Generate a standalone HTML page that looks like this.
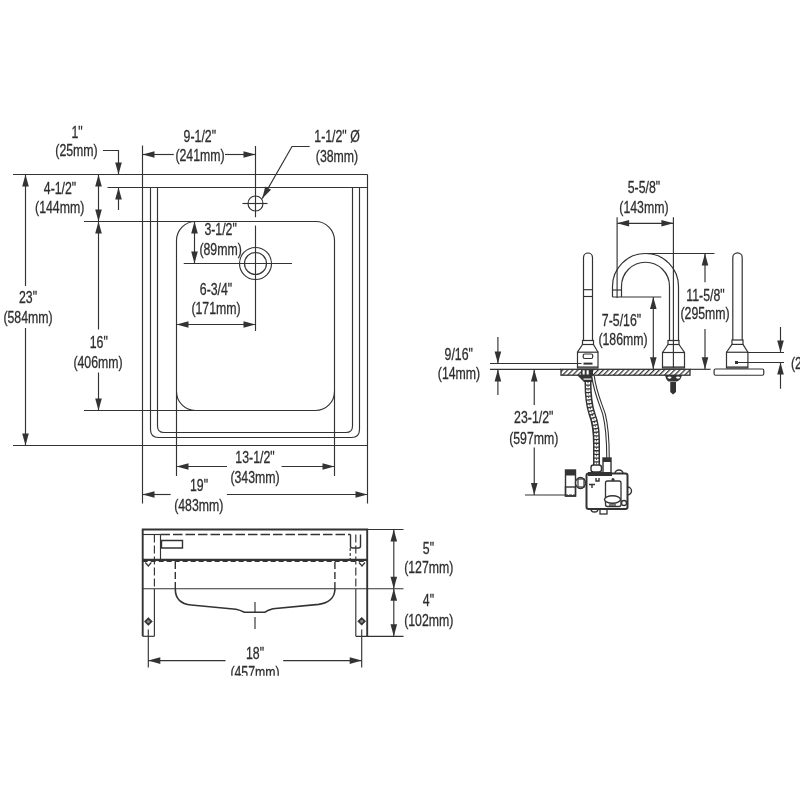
<!DOCTYPE html>
<html><head><meta charset="utf-8"><style>
html,body{margin:0;padding:0;background:#fff;width:800px;height:800px;overflow:hidden}
svg{display:block;will-change:transform}
text{font-family:"Liberation Sans",sans-serif;stroke:#2e2e2e;stroke-width:0.3px}
</style></head><body>
<svg width="800" height="800" viewBox="0 0 800 800">
<rect width="800" height="800" fill="#fff"/>
<defs><pattern id="hatch" patternUnits="userSpaceOnUse" width="3.6" height="3.6" patternTransform="rotate(45)"><rect width="3.6" height="3.6" fill="#fff"/><rect width="1.25" height="3.6" fill="#333"/></pattern></defs>
<line x1="13" y1="174.5" x2="367.5" y2="174.5" stroke="#333" stroke-width="1.15" />
<line x1="107.5" y1="187.5" x2="367.5" y2="187.5" stroke="#333" stroke-width="1.15" />
<line x1="142.5" y1="145.5" x2="142.5" y2="503.5" stroke="#333" stroke-width="1.15" />
<line x1="367.5" y1="174.5" x2="367.5" y2="503.5" stroke="#333" stroke-width="1.15" />
<line x1="13" y1="445.5" x2="367.5" y2="445.5" stroke="#333" stroke-width="1.15" />
<path d="M150.5,187.5 V429.5 Q150.5,437.5 158.5,437.5 H351.5 Q359.5,437.5 359.5,429.5 V187.5" stroke="#333" stroke-width="1.15" fill="none" />
<path d="M157.5,187.5 V426.0 Q157.5,432.5 164.0,432.5 H346.0 Q352.5,432.5 352.5,426.0 V187.5" stroke="#333" stroke-width="1.15" fill="none" />
<path d="M176.5,240.5 V391.5 A19,19 0 0 0 195.5,410.5 H315.5 A19,19 0 0 0 334.5,391.5 V240.5 A19,19 0 0 0 315.5,221.5 H195.5 A19,19 0 0 0 176.5,240.5 Z" stroke="#333" stroke-width="1.15" fill="none" />
<line x1="84" y1="221.5" x2="195.5" y2="221.5" stroke="#333" stroke-width="1.15" />
<line x1="84" y1="410.5" x2="195.5" y2="410.5" stroke="#333" stroke-width="1.15" />
<line x1="176.5" y1="391.5" x2="176.5" y2="476" stroke="#333" stroke-width="1.15" />
<line x1="334.5" y1="391.5" x2="334.5" y2="476" stroke="#333" stroke-width="1.15" />
<line x1="255.5" y1="146" x2="255.5" y2="217.2" stroke="#333" stroke-width="1.15" />
<line x1="255.5" y1="225.6" x2="255.5" y2="331" stroke="#333" stroke-width="1.15" />
<circle cx="255.5" cy="203.5" r="7.5" fill="none" stroke="#333" stroke-width="1.15"/>
<line x1="242.5" y1="203.5" x2="267.5" y2="203.5" stroke="#333" stroke-width="1.15" />
<circle cx="255.5" cy="263.5" r="16" fill="none" stroke="#333" stroke-width="1.15"/>
<circle cx="255.5" cy="263.5" r="11" fill="none" stroke="#333" stroke-width="1.15"/>
<line x1="183.75" y1="263.5" x2="292" y2="263.5" stroke="#333" stroke-width="1.15" />
<path d="M103,150.5 H118.5 V174" stroke="#333" stroke-width="1.15" fill="none" />
<path d="M118.50,174.50 L115.20,162.50 L121.80,162.50 Z" fill="#333"/>
<line x1="118.5" y1="187.5" x2="118.5" y2="210" stroke="#333" stroke-width="1.15" />
<path d="M118.50,187.50 L121.80,199.50 L115.20,199.50 Z" fill="#333"/>
<line x1="25.5" y1="174.5" x2="25.5" y2="286" stroke="#333" stroke-width="1.15" />
<line x1="25.5" y1="328" x2="25.5" y2="445.5" stroke="#333" stroke-width="1.15" />
<path d="M25.50,174.50 L28.80,186.50 L22.20,186.50 Z" fill="#333"/>
<path d="M25.50,445.50 L22.20,433.50 L28.80,433.50 Z" fill="#333"/>
<line x1="98.5" y1="174.5" x2="98.5" y2="221.5" stroke="#333" stroke-width="1.15" />
<path d="M98.50,174.50 L101.80,186.50 L95.20,186.50 Z" fill="#333"/>
<path d="M98.50,221.50 L95.20,209.50 L101.80,209.50 Z" fill="#333"/>
<line x1="98.5" y1="221.5" x2="98.5" y2="329.5" stroke="#333" stroke-width="1.15" />
<line x1="98.5" y1="372.5" x2="98.5" y2="410.5" stroke="#333" stroke-width="1.15" />
<path d="M98.50,221.50 L101.80,233.50 L95.20,233.50 Z" fill="#333"/>
<path d="M98.50,410.50 L95.20,398.50 L101.80,398.50 Z" fill="#333"/>
<line x1="142.5" y1="154.5" x2="173.75" y2="154.5" stroke="#333" stroke-width="1.15" />
<line x1="225" y1="154.5" x2="255.5" y2="154.5" stroke="#333" stroke-width="1.15" />
<path d="M142.50,154.50 L154.50,151.20 L154.50,157.80 Z" fill="#333"/>
<path d="M255.50,154.50 L243.50,157.80 L243.50,151.20 Z" fill="#333"/>
<path d="M309.7,146.5 H292 L262.2,198.6" stroke="#333" stroke-width="1.15" fill="none" />
<path d="M262.20,198.60 L265.29,186.55 L271.02,189.82 Z" fill="#333"/>
<line x1="194.5" y1="221.5" x2="194.5" y2="263.5" stroke="#333" stroke-width="1.15" />
<path d="M194.50,221.50 L197.80,233.50 L191.20,233.50 Z" fill="#333"/>
<path d="M194.50,263.50 L191.20,251.50 L197.80,251.50 Z" fill="#333"/>
<line x1="176.5" y1="324.5" x2="255.5" y2="324.5" stroke="#333" stroke-width="1.15" />
<path d="M176.50,324.50 L188.50,321.20 L188.50,327.80 Z" fill="#333"/>
<path d="M255.50,324.50 L243.50,327.80 L243.50,321.20 Z" fill="#333"/>
<line x1="176.5" y1="466.5" x2="227" y2="466.5" stroke="#333" stroke-width="1.15" />
<line x1="281.5" y1="466.5" x2="334.5" y2="466.5" stroke="#333" stroke-width="1.15" />
<path d="M176.50,466.50 L188.50,463.20 L188.50,469.80 Z" fill="#333"/>
<path d="M334.50,466.50 L322.50,469.80 L322.50,463.20 Z" fill="#333"/>
<line x1="142.5" y1="494.5" x2="170.6" y2="494.5" stroke="#333" stroke-width="1.15" />
<line x1="226.9" y1="494.5" x2="367.5" y2="494.5" stroke="#333" stroke-width="1.15" />
<path d="M142.50,494.50 L154.50,491.20 L154.50,497.80 Z" fill="#333"/>
<path d="M367.50,494.50 L355.50,497.80 L355.50,491.20 Z" fill="#333"/>
<text transform="translate(77,137.8) scale(0.725,1)" text-anchor="middle" font-size="17" fill="#2e2e2e">1&quot;</text>
<text transform="translate(76.5,156.4) scale(0.725,1)" text-anchor="middle" font-size="17" fill="#2e2e2e">(25mm)</text>
<text transform="translate(60,193.8) scale(0.725,1)" text-anchor="middle" font-size="17" fill="#2e2e2e">4-1/2&quot;</text>
<text transform="translate(59.7,212.8) scale(0.725,1)" text-anchor="middle" font-size="17" fill="#2e2e2e">(144mm)</text>
<text transform="translate(28,303.3) scale(0.725,1)" text-anchor="middle" font-size="17" fill="#2e2e2e">23&quot;</text>
<text transform="translate(28,323.3) scale(0.725,1)" text-anchor="middle" font-size="17" fill="#2e2e2e">(584mm)</text>
<text transform="translate(98.75,348.3) scale(0.725,1)" text-anchor="middle" font-size="17" fill="#2e2e2e">16&quot;</text>
<text transform="translate(98,368.3) scale(0.725,1)" text-anchor="middle" font-size="17" fill="#2e2e2e">(406mm)</text>
<text transform="translate(199.8,142.45000000000002) scale(0.725,1)" text-anchor="middle" font-size="17" fill="#2e2e2e">9-1/2&quot;</text>
<text transform="translate(200,161.05) scale(0.725,1)" text-anchor="middle" font-size="17" fill="#2e2e2e">(241mm)</text>
<text transform="translate(337,141.8) scale(0.725,1)" text-anchor="middle" font-size="17" fill="#2e2e2e">1-1/2&quot; Ø</text>
<text transform="translate(337,161.8) scale(0.725,1)" text-anchor="middle" font-size="17" fill="#2e2e2e">(38mm)</text>
<text transform="translate(220.6,235.20000000000002) scale(0.725,1)" text-anchor="middle" font-size="17" fill="#2e2e2e">3-1/2&quot;</text>
<text transform="translate(220.6,254.55) scale(0.725,1)" text-anchor="middle" font-size="17" fill="#2e2e2e">(89mm)</text>
<text transform="translate(216,294.55) scale(0.725,1)" text-anchor="middle" font-size="17" fill="#2e2e2e">6-3/4&quot;</text>
<text transform="translate(216,313.8) scale(0.725,1)" text-anchor="middle" font-size="17" fill="#2e2e2e">(171mm)</text>
<text transform="translate(255,463.3) scale(0.725,1)" text-anchor="middle" font-size="17" fill="#2e2e2e">13-1/2&quot;</text>
<text transform="translate(255,482.8) scale(0.725,1)" text-anchor="middle" font-size="17" fill="#2e2e2e">(343mm)</text>
<text transform="translate(199,491.40000000000003) scale(0.725,1)" text-anchor="middle" font-size="17" fill="#2e2e2e">19&quot;</text>
<text transform="translate(198.75,510.8) scale(0.725,1)" text-anchor="middle" font-size="17" fill="#2e2e2e">(483mm)</text>
<path d="M142.7,636.3 V529.5 H367.2 V636.3" stroke="#333" stroke-width="1.9" fill="none" />
<line x1="367.2" y1="529.5" x2="403.5" y2="529.5" stroke="#333" stroke-width="1.15" />
<line x1="142.7" y1="534.5" x2="160.5" y2="534.5" stroke="#333" stroke-width="1.15" />
<line x1="160.5" y1="534.5" x2="350.5" y2="534.5" stroke="#333" stroke-width="1.4" stroke-dasharray="9.5,3"/>
<line x1="154.4" y1="534.5" x2="154.4" y2="589" stroke="#333" stroke-width="1.15" stroke-dasharray="8,3"/>
<line x1="154.4" y1="589" x2="154.4" y2="636.3" stroke="#333" stroke-width="1.15" />
<line x1="142.7" y1="636.3" x2="154.4" y2="636.3" stroke="#333" stroke-width="1.15" />
<line x1="355.8" y1="534.5" x2="355.8" y2="589" stroke="#333" stroke-width="1.15" stroke-dasharray="8,3"/>
<line x1="355.8" y1="589" x2="355.8" y2="636.3" stroke="#333" stroke-width="1.15" />
<line x1="355.8" y1="636.3" x2="403.5" y2="636.3" stroke="#333" stroke-width="1.15" />
<line x1="160.5" y1="534.5" x2="160.5" y2="559" stroke="#333" stroke-width="1.15" />
<path d="M161.5,540.5 H182.5 V548 H161.5 Z" stroke="#333" stroke-width="1.4" fill="none" />
<path d="M350.5,534.5 V546 Q350.5,548 352.5,548 H358.5 Q360.5,548 360.5,546 V534.5" stroke="#333" stroke-width="1.4" fill="none" />
<line x1="350.2" y1="548" x2="350.2" y2="559" stroke="#333" stroke-width="1.15" stroke-dasharray="3,2"/>
<line x1="142.7" y1="559.8" x2="367.2" y2="559.8" stroke="#333" stroke-width="2.2" />
<line x1="142.7" y1="561.5" x2="367.2" y2="561.5" stroke="#333" stroke-width="1.0" stroke-dasharray="5,3"/>
<line x1="142.7" y1="588.7" x2="403.5" y2="588.7" stroke="#333" stroke-width="1.15" />
<line x1="175.3" y1="562" x2="175.3" y2="589" stroke="#333" stroke-width="1.4" stroke-dasharray="7,3"/>
<line x1="334.9" y1="562" x2="334.9" y2="589" stroke="#333" stroke-width="1.4" stroke-dasharray="7,3"/>
<path d="M175.3,589 C175.3,599 181,604 191.2,605 L235.9,609.3 Q240,610 244.4,612.3 H264.6 Q268,610 273,608.7 L318.7,604.4 C328,603 334.9,598 334.9,589" stroke="#333" stroke-width="1.6" fill="none" />
<line x1="255" y1="602" x2="255" y2="629" stroke="#333" stroke-width="1.15" stroke-dasharray="11,4,12"/>
<path d="M148.3,617.5 L152.3,621.5 L148.3,625.5 L144.3,621.5 Z" fill="#333" stroke="#333" stroke-width="0.6"/>
<circle cx="148.3" cy="621.5" r="1.5" fill="#888"/>
<path d="M361.7,617.3 L365.7,621.3 L361.7,625.3 L357.7,621.3 Z" fill="#333" stroke="#333" stroke-width="0.6"/>
<circle cx="361.7" cy="621.3" r="1.5" fill="#888"/>
<path d="M145.3,562.5 L148.3,566 L151.3,562.5" stroke="#333" stroke-width="1.2" fill="none" />
<path d="M359,562.5 L362,566 L365,562.5" stroke="#333" stroke-width="1.2" fill="none" />
<line x1="148.3" y1="629.4" x2="148.3" y2="667.6" stroke="#333" stroke-width="1.15" />
<line x1="361.7" y1="629.4" x2="361.7" y2="667.6" stroke="#333" stroke-width="1.15" />
<line x1="148.3" y1="660.6" x2="225.5" y2="660.6" stroke="#333" stroke-width="1.15" />
<line x1="283.2" y1="660.6" x2="361.7" y2="660.6" stroke="#333" stroke-width="1.15" />
<path d="M148.30,660.60 L160.30,657.30 L160.30,663.90 Z" fill="#333"/>
<path d="M361.70,660.60 L349.70,663.90 L349.70,657.30 Z" fill="#333"/>
<line x1="393.8" y1="529.5" x2="393.8" y2="588.7" stroke="#333" stroke-width="1.15" />
<path d="M393.80,529.50 L397.10,541.50 L390.50,541.50 Z" fill="#333"/>
<path d="M393.80,588.70 L390.50,576.70 L397.10,576.70 Z" fill="#333"/>
<line x1="393.8" y1="588.7" x2="393.8" y2="636.3" stroke="#333" stroke-width="1.15" />
<path d="M393.80,588.70 L397.10,600.70 L390.50,600.70 Z" fill="#333"/>
<path d="M393.80,636.30 L390.50,624.30 L397.10,624.30 Z" fill="#333"/>
<text transform="translate(428.4,553.55) scale(0.725,1)" text-anchor="middle" font-size="17" fill="#2e2e2e">5&quot;</text>
<text transform="translate(428.75,573.3) scale(0.725,1)" text-anchor="middle" font-size="17" fill="#2e2e2e">(127mm)</text>
<text transform="translate(428.4,606.05) scale(0.725,1)" text-anchor="middle" font-size="17" fill="#2e2e2e">4&quot;</text>
<text transform="translate(428.75,625.55) scale(0.725,1)" text-anchor="middle" font-size="17" fill="#2e2e2e">(102mm)</text>
<text transform="translate(255,658.5) scale(0.725,1)" text-anchor="middle" font-size="17" fill="#2e2e2e">18&quot;</text>
<text transform="translate(255,677.8) scale(0.725,1)" text-anchor="middle" font-size="17" fill="#2e2e2e">(457mm)</text>
<rect x="200" y="675.8" width="110" height="20" fill="#fff"/>
<line x1="617.1" y1="217.25" x2="617.1" y2="298" stroke="#333" stroke-width="1.15" />
<line x1="673.4" y1="217.25" x2="673.4" y2="368" stroke="#333" stroke-width="1.15" />
<line x1="617.1" y1="223.3" x2="673.4" y2="223.3" stroke="#333" stroke-width="1.15" />
<path d="M617.10,223.30 L629.10,220.00 L629.10,226.60 Z" fill="#333"/>
<path d="M673.40,223.30 L661.40,226.60 L661.40,220.00 Z" fill="#333"/>
<text transform="translate(643.9,193.3) scale(0.725,1)" text-anchor="middle" font-size="17" fill="#2e2e2e">5-5/8&quot;</text>
<text transform="translate(643.9,212.5) scale(0.725,1)" text-anchor="middle" font-size="17" fill="#2e2e2e">(143mm)</text>
<path d="M612.5,297 V286.5 A33,33 0 0 1 678.5,286.5 V340.5" stroke="#333" stroke-width="1.2" fill="none" />
<path d="M621.5,297 V286.25 A24,24 0 0 1 669.5,286.25 V340.5" stroke="#333" stroke-width="1.2" fill="none" />
<line x1="612.5" y1="290" x2="621.5" y2="290" stroke="#333" stroke-width="1.15" />
<line x1="612.5" y1="297" x2="661.25" y2="297" stroke="#333" stroke-width="1.15" />
<line x1="645" y1="253.5" x2="714.5" y2="253.5" stroke="#333" stroke-width="1.15" />
<rect x="668" y="340.5" width="11" height="4.0" rx="0" fill="none" stroke="#333" stroke-width="1.2"/>
<path d="M668,344.5 L662.5,352.5 M679,344.5 L684.5,352.5" stroke="#333" stroke-width="1.2" fill="none" />
<rect x="662.5" y="352.5" width="22.0" height="15.5" rx="0" fill="none" stroke="#333" stroke-width="1.2"/>
<line x1="662.5" y1="367" x2="684.5" y2="367" stroke="#333" stroke-width="1.15" />
<path d="M583.5,340.5 V257.5 A4.5,4.5 0 0 1 592.5,257.5 V340.5" stroke="#333" stroke-width="1.2" fill="none" />
<line x1="583.5" y1="289.7" x2="592.5" y2="289.7" stroke="#333" stroke-width="1.15" />
<line x1="583.5" y1="296.5" x2="592.5" y2="296.5" stroke="#333" stroke-width="1.15" />
<rect x="582.5" y="340.5" width="11.0" height="4.0" rx="0" fill="none" stroke="#333" stroke-width="1.2"/>
<path d="M582.5,344.5 L577.5,352.2 M593.5,344.5 L598,352.2" stroke="#333" stroke-width="1.2" fill="none" />
<rect x="577.5" y="352.2" width="20.5" height="15.800000000000011" rx="0" fill="none" stroke="#333" stroke-width="1.2"/>
<line x1="577.5" y1="367" x2="598" y2="367" stroke="#333" stroke-width="1.15" />
<rect x="583.2" y="354" width="9.5" height="4.5" rx="1.5" fill="none" stroke="#333" stroke-width="1.2"/>
<line x1="583.5" y1="363.6" x2="592.5" y2="363.6" stroke="#333" stroke-width="2" />
<path d="M732.8,340 V257.5 A4.7,4.7 0 0 1 742.2,257.5 V340" stroke="#333" stroke-width="1.2" fill="none" />
<rect x="732" y="340" width="11" height="4.399999999999977" rx="0" fill="none" stroke="#333" stroke-width="1.2"/>
<path d="M732,344.4 L726.5,352.25 M743,344.4 L747.9,352.25" stroke="#333" stroke-width="1.2" fill="none" />
<rect x="726.5" y="352.25" width="21.399999999999977" height="15.75" rx="0" fill="none" stroke="#333" stroke-width="1.2"/>
<line x1="726.5" y1="367" x2="747.9" y2="367" stroke="#333" stroke-width="1.15" />
<rect x="735" y="361" width="3" height="3" fill="#333"/>
<rect x="714.1" y="369" width="49.64999999999998" height="6.25" rx="1.5" fill="none" stroke="#333" stroke-width="1.2"/>
<line x1="490" y1="369.3" x2="561" y2="369.3" stroke="#333" stroke-width="1.15" />
<line x1="690" y1="369.3" x2="710.6" y2="369.3" stroke="#333" stroke-width="1.15" />
<line x1="490" y1="363.5" x2="581.5" y2="363.5" stroke="#333" stroke-width="1.15" />
<rect x="561" y="369.3" width="129" height="5.9" fill="url(#hatch)" stroke="#333" stroke-width="1.3"/>
<line x1="497.9" y1="336.9" x2="497.9" y2="363.5" stroke="#333" stroke-width="1.15" />
<path d="M497.90,363.50 L494.60,351.50 L501.20,351.50 Z" fill="#333"/>
<line x1="497.9" y1="395" x2="497.9" y2="369.4" stroke="#333" stroke-width="1.15" />
<path d="M497.90,369.40 L501.20,381.40 L494.60,381.40 Z" fill="#333"/>
<text transform="translate(458.7,360.2) scale(0.725,1)" text-anchor="middle" font-size="17" fill="#2e2e2e">9/16&quot;</text>
<text transform="translate(459,378.8) scale(0.725,1)" text-anchor="middle" font-size="17" fill="#2e2e2e">(14mm)</text>
<line x1="653.3" y1="297" x2="653.3" y2="369.3" stroke="#333" stroke-width="1.15" />
<path d="M653.30,297.00 L656.60,309.00 L650.00,309.00 Z" fill="#333"/>
<path d="M653.30,369.30 L650.00,357.30 L656.60,357.30 Z" fill="#333"/>
<text transform="translate(621.5,326.3) scale(0.725,1)" text-anchor="middle" font-size="17" fill="#2e2e2e">7-5/16&quot;</text>
<text transform="translate(623,345.40000000000003) scale(0.725,1)" text-anchor="middle" font-size="17" fill="#2e2e2e">(186mm)</text>
<line x1="705" y1="253.5" x2="705" y2="282.25" stroke="#333" stroke-width="1.15" />
<line x1="705" y1="329" x2="705" y2="369.3" stroke="#333" stroke-width="1.15" />
<path d="M705.00,253.50 L708.30,265.50 L701.70,265.50 Z" fill="#333"/>
<path d="M705.00,369.30 L701.70,357.30 L708.30,357.30 Z" fill="#333"/>
<text transform="translate(705.5,300.6) scale(0.725,1)" text-anchor="middle" font-size="17" fill="#2e2e2e">11-5/8&quot;</text>
<text transform="translate(705.1,319.05) scale(0.725,1)" text-anchor="middle" font-size="17" fill="#2e2e2e">(295mm)</text>
<line x1="748" y1="352.5" x2="784" y2="352.5" stroke="#333" stroke-width="1.15" />
<line x1="738" y1="362.5" x2="784" y2="362.5" stroke="#333" stroke-width="1.15" />
<line x1="780.5" y1="327" x2="780.5" y2="352.5" stroke="#333" stroke-width="1.15" />
<path d="M780.50,352.50 L777.20,340.50 L783.80,340.50 Z" fill="#333"/>
<line x1="780.5" y1="388.75" x2="780.5" y2="362.5" stroke="#333" stroke-width="1.15" />
<path d="M780.50,362.50 L783.80,374.50 L777.20,374.50 Z" fill="#333"/>
<text transform="translate(791,368.5) scale(0.725,1)" font-size="17" fill="#2e2e2e">(25mm)</text>
<line x1="534.25" y1="369.4" x2="534.25" y2="405" stroke="#333" stroke-width="1.15" />
<line x1="534.25" y1="447.5" x2="534.25" y2="495" stroke="#333" stroke-width="1.15" />
<path d="M534.25,369.40 L537.55,381.40 L530.95,381.40 Z" fill="#333"/>
<path d="M534.25,495.00 L530.95,483.00 L537.55,483.00 Z" fill="#333"/>
<line x1="525" y1="495" x2="575" y2="495" stroke="#333" stroke-width="1.15" />
<text transform="translate(533.75,423.3) scale(0.725,1)" text-anchor="middle" font-size="17" fill="#2e2e2e">23-1/2&quot;</text>
<text transform="translate(533.75,443.6) scale(0.725,1)" text-anchor="middle" font-size="17" fill="#2e2e2e">(597mm)</text>
<path d="M665,375 H682 Q681,380 677,381.5 H668.5 Q666,380 665,375 Z" fill="#333"/>
<ellipse cx="669.5" cy="377.6" rx="2" ry="1.1" fill="#fff"/><ellipse cx="678" cy="377.6" rx="2" ry="1.1" fill="#fff"/>
<path d="M670.25,382 H676 V392 L673,394.5 L670.25,392 Z" fill="#333"/>
<rect x="581" y="369.5" width="12" height="5.5" fill="#333"/>
<rect x="582.6" y="370.3" width="2.1" height="4.2" fill="#fff"/><rect x="586.6" y="370.3" width="2.1" height="4.2" fill="#fff"/>
<path d="M577,375 H592.8 V382 H584 Z" fill="#333"/>
<rect x="583.5" y="378.5" width="8" height="1.2" fill="#fff"/>
<path d="M588,382 C588,395 589,405 592,414 C596,424 596.5,432 596.5,445 L596.5,465" stroke="#333" stroke-width="7" fill="none" />
<path d="M588,382 C588,395 589,405 592,414 C596,424 596.5,432 596.5,445 L596.5,465" stroke="#fff" stroke-width="4" fill="none" stroke-dasharray="2.4,1.3"/>
<path d="M588,382 C588,395 589,405 592,414 C596,424 596.5,432 596.5,445 L596.5,465" stroke="#333" stroke-width="0.9" fill="none" stroke-dasharray="1.2,2.5"/>
<path d="M593,376 C595,392 600,402 604,414 C607,426 608,440 608,458" stroke="#333" stroke-width="3.6" fill="none" />
<path d="M593,376 C595,392 600,402 604,414 C607,426 608,440 608,458" stroke="#fff" stroke-width="1.4" fill="none"/>
<rect x="586.5" y="473.5" width="41.0" height="35.5" rx="2" fill="none" stroke="#333" stroke-width="2"/>
<rect x="588" y="472" width="24" height="4" fill="#333"/>
<rect x="591" y="465" width="10.5" height="7" rx="2.5" fill="none" stroke="#333" stroke-width="1.4"/>
<rect x="603" y="458" width="8" height="15" rx="0" fill="none" stroke="#333" stroke-width="1.4"/>
<rect x="603" y="458" width="8" height="4" fill="#333"/>
<rect x="565.5" y="470" width="10.0" height="26" rx="0" fill="none" stroke="#333" stroke-width="1.4"/>
<rect x="565.5" y="470" width="10" height="5.5" fill="#333"/>
<rect x="565.5" y="487" width="10" height="9" fill="none" stroke="#333" stroke-width="1.4"/>
<line x1="568.5" y1="488" x2="568.5" y2="495" stroke="#fff" stroke-width="1" />
<line x1="572.5" y1="488" x2="572.5" y2="495" stroke="#fff" stroke-width="1" />
<ellipse cx="580.5" cy="483" rx="5" ry="5.5" fill="#fff" stroke="#333" stroke-width="1.4"/>
<rect x="578" y="479" width="6" height="8" rx="0" fill="none" stroke="#333" stroke-width="1.2"/>
<rect x="605.5" y="481" width="15.5" height="25.5" rx="2" fill="none" stroke="#333" stroke-width="1.3"/>
<ellipse cx="612.5" cy="499.5" rx="8" ry="3.8" fill="#fff" stroke="#333" stroke-width="1.4"/>
<line x1="609" y1="505" x2="616" y2="505" stroke="#333" stroke-width="1.3" />
<circle cx="613" cy="479.5" r="1.5" fill="#333"/>
<path d="M589,484.5 H595 M592,484.5 V488" stroke="#333" stroke-width="1.4" fill="none" />
<path d="M596,478 V481 H599 V478" stroke="#333" stroke-width="1.4" fill="none" />
<path d="M627.5,487 A3.5,3.5 0 0 1 627.5,495" fill="none" stroke="#333" stroke-width="1.4"/>
<path d="M615,473.5 A4,3.5 0 0 1 623,473.5" fill="none" stroke="#333" stroke-width="1.4"/>
<circle cx="624" cy="503" r="2.5" fill="none" stroke="#333" stroke-width="1.3"/>
<path d="M591,509 A3.5,3 0 0 0 598,509" fill="none" stroke="#333" stroke-width="1.4"/>
<rect x="600" y="509" width="7" height="5" rx="0" fill="none" stroke="#333" stroke-width="1.3"/>
</svg></body></html>
